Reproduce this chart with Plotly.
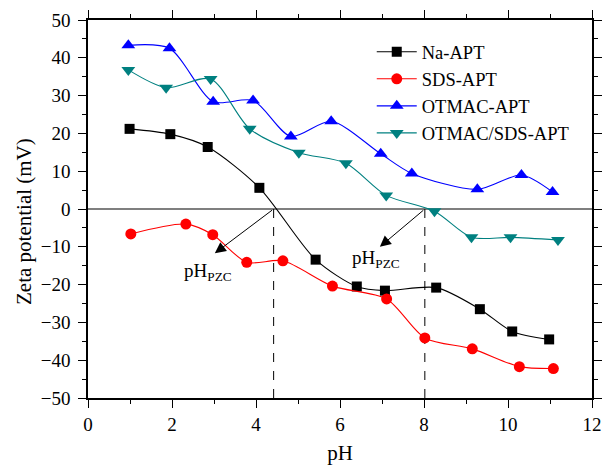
import plotly.graph_objects as go

# pH values and zeta potentials (mV) for each sample
ph_na = [0.99, 1.96, 2.85, 4.08, 5.42, 6.40, 7.07, 8.29, 9.33, 10.10, 10.98]
zeta_na = [21.2, 19.8, 16.4, 5.6, -13.4, -20.5, -21.6, -20.8, -26.5, -32.4, -34.5]

ph_sds = [1.02, 2.33, 2.97, 3.78, 4.64, 5.82, 7.11, 8.02, 9.15, 10.27, 11.08]
zeta_sds = [-6.6, -4.0, -6.8, -14.1, -13.7, -20.4, -23.8, -34.1, -37.0, -41.7, -42.2]

ph_otmac = [0.96, 1.94, 2.98, 3.93, 4.83, 5.79, 6.97, 7.71, 9.27, 10.32, 11.06]
zeta_otmac = [43.3, 42.5, 28.4, 28.7, 19.2, 23.2, 14.6, 9.4, 5.2, 9.0, 4.5]

ph_mix = [0.96, 1.86, 2.92, 3.85, 5.02, 6.14, 7.10, 8.25, 9.13, 10.06, 11.19]
zeta_mix = [36.8, 32.1, 34.4, 21.2, 14.9, 12.1, 3.6, -0.6, -7.5, -7.5, -8.2]

# axis ticks
x_ticks = [0, 2, 4, 6, 8, 10, 12]
x_minor = [1, 3, 5, 7, 9, 11]
y_ticks = list(range(-50, 51, 10))
y_minor = list(range(-45, 50, 10))

# points of zero charge and their label placement
pzc_ph = [4.42, 8.02]
pzc_arrow_tip = [(3.02, -11.7), (6.95, -10.0)]
pzc_label_pos = [(2.85, -16.6), (6.85, -13.3)]

series = [
    ("Na-APT", ph_na, zeta_na, "#000000", "square", 10),
    ("SDS-APT", ph_sds, zeta_sds, "#ff0000", "circle", 11),
    ("OTMAC-APT", ph_otmac, zeta_otmac, "#0000ff", "triangle-up", 12),
    ("OTMAC/SDS-APT", ph_mix, zeta_mix, "#008080", "triangle-down", 12),
]

FONT = "Liberation Serif"

fig = go.Figure()
for name, xs, ys, color, symbol, size in series:
    fig.add_trace(go.Scatter(
        x=xs, y=ys, name=name, mode="lines+markers",
        line=dict(color=color, width=1.1, shape="spline", smoothing=0.8),
        marker=dict(color=color, symbol=symbol, size=size, line=dict(width=0)),
    ))

shapes = [
    dict(type="line", xref="x", yref="y", x0=0, x1=12, y0=0, y1=0,
         line=dict(color="black", width=1.2), layer="below"),
]
for p in pzc_ph:
    shapes.append(dict(type="line", xref="x", yref="y", x0=p, x1=p, y0=-50, y1=0,
                       line=dict(color="black", width=1, dash="dash"), layer="below"))

annotations = []
for p, (tx, ty), (lx, ly) in zip(pzc_ph, pzc_arrow_tip, pzc_label_pos):
    annotations.append(dict(
        x=tx, y=ty, ax=p, ay=0, xref="x", yref="y", axref="x", ayref="y",
        text="", showarrow=True, arrowhead=2, arrowsize=2.2, arrowwidth=1,
        arrowcolor="black", standoff=0, startstandoff=0,
    ))
    annotations.append(dict(
        x=lx, y=ly, xref="x", yref="y", showarrow=False,
        text="pH<sub>PZC</sub>", font=dict(family=FONT, size=19, color="black"),
    ))

# y-axis title, placed in pixels relative to the plot area
plot_w = 605 - 88 - 13
plot_h = 465 - 20 - 67
annotations.append(dict(
    x=(24 - 88) / plot_w, y=(465 - 67 - 222) / plot_h, xref="paper", yref="paper",
    xanchor="center", yanchor="middle",
    showarrow=False, text="Zeta potential (mV)", textangle=-90,
    font=dict(family=FONT, size=21, color="black"),
))

fig.update_layout(
    width=605, height=465,
    margin=dict(l=88, r=13, t=20, b=67),
    paper_bgcolor="white", plot_bgcolor="white",
    font=dict(family=FONT, size=19, color="black"),
    showlegend=True,
    legend=dict(
        x=0.563, y=0.965, xanchor="left", yanchor="top",
        bgcolor="rgba(0,0,0,0)", borderwidth=0,
        font=dict(family=FONT, size=18.5, color="black"),
        itemwidth=40, tracegroupgap=0,
    ),
    shapes=shapes,
    annotations=annotations,
)

for upd, vals, minor in ((fig.update_xaxes, x_ticks, x_minor), (fig.update_yaxes, y_ticks, y_minor)):
    upd(
        showgrid=False, zeroline=False, showline=True, linecolor="black", linewidth=1.5,
        mirror="ticks", ticks="outside", ticklen=8, tickwidth=1.3, tickcolor="black",
        tickfont_family=FONT, tickfont_size=19, tickfont_color="black",
        automargin=False, tickmode="array", tickvals=vals,
        minor=dict(tickvals=minor, ticks="outside", ticklen=4,
                   tickcolor="black", tickwidth=1.2),
    )

fig.update_xaxes(range=[0, 12],
                 title=dict(text="pH", font=dict(family=FONT, size=21), standoff=18))
fig.update_yaxes(range=[-50, 50], ticklabelstandoff=4)

fig.write_html("out.html")
